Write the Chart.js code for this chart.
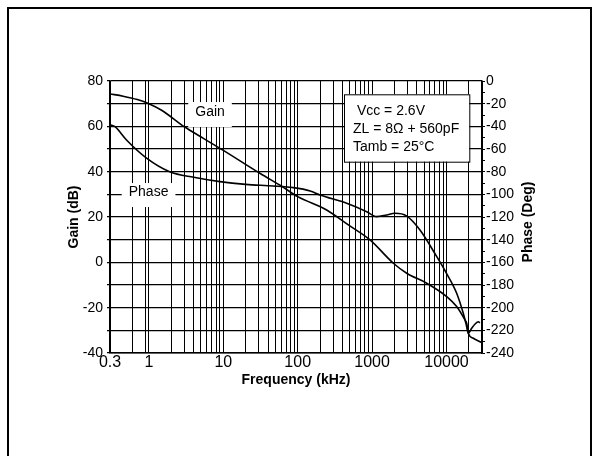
<!DOCTYPE html>
<html>
<head>
<meta charset="utf-8">
<script src="https://cdn.jsdelivr.net/npm/chart.js@4.4.0/dist/chart.umd.min.js"></script>
<style>
    html, body { margin: 0; padding: 0; background: #fff; }
    #wrap { position: relative; width: 595px; height: 456px; overflow: hidden; }
    #frame { position: absolute; left: 7px; top: 7px; width: 581px; height: 470px; border: 2px solid #000; }
    #canvas { position: absolute; left: 0; top: 0; }
</style>
</head>
<body>
<div id="wrap">
    <div id="frame"></div>
    <canvas id="canvas" width="595" height="456"></canvas>
</div>
<script>
// Gain curve (kHz / dB)
const gainFreq = [0.3, 0.45, 0.7, 1, 1.5, 3, 5.4, 10, 31, 62, 100, 245, 480, 937, 1930, 2920, 5420, 10070, 13700, 17700, 18680, 19640, 22900, 28200, 29700];
const gainDb   = [74.3, 73.3, 71.8, 70, 67, 59.8, 54.7, 49.4, 39.3, 33.4, 29, 23.1, 16.5, 9.9, -0.4, -4.8, -9.2, -15.1, -19.5, -25.4, -26.9, -31.3, -33.5, -35, -35.4];

// Phase curve (kHz / deg)
const phaseFreq = [0.3, 0.35, 0.5, 0.93, 1.9, 4, 9, 20, 47, 87, 147, 200, 455, 846, 1150, 1570, 2030, 2900, 4400, 7400, 10000, 13700, 16800, 18680, 19640, 21800, 24200, 26800, 28200];
const phaseDeg  = [-38.5, -40.3, -52, -68, -80, -85, -88.8, -91.2, -92.6, -94.1, -97, -100.6, -107.9, -115.3, -119.7, -118.2, -116.7, -119, -131.5, -155, -169.7, -187.3, -205, -216.8, -222.6, -218.2, -214.4, -212.4, -213.5];

// axes
const xGridTicks = [0.3, 0.6, 0.9,
    1, 2, 3, 4, 5, 6, 7, 8, 9,
    10, 20, 30, 40, 50, 60, 70, 80, 90,
    100, 200, 300, 400, 500, 600, 700, 800, 900,
    1000, 2000, 3000, 4000, 5000, 6000, 7000, 8000, 9000,
    10000, 20000, 30000];
const xTickLabels = [0.3, 1, 10, 100, 1000, 10000];
const conditions = [' Vcc = 2.6V', 'ZL = 8\u03A9 + 560pF', 'Tamb = 25\u00B0C'];

const FONT = "'Liberation Sans', Arial, sans-serif";
Chart.defaults.font.family = FONT;
Chart.defaults.color = '#000';

// petites étiquettes "Gain" / "Phase" sur fond blanc
const curveTags = [
    { text: 'Gain', f: 6.63, db: 65.2, h: 25, dy: -2.5 },
    { text: 'Phase', f: 0.99, db: 29.7, h: 24, dy: -2.8 }
];

const labelsPlugin = {
    id: 'labels',
    beforeDatasetsDraw(chart) {
        const { ctx, chartArea, scales } = chart;
        ctx.save();
        ctx.font = '14px ' + FONT;
        ctx.textBaseline = 'middle';
        curveTags.forEach(tag => {
            const cx = scales.x.getPixelForValue(tag.f);
            const cy = scales.y.getPixelForValue(tag.db);
            const w = ctx.measureText(tag.text).width + 14;
            ctx.fillStyle = '#fff';
            ctx.fillRect(cx - w / 2, cy - tag.h / 2, w, tag.h);
            ctx.fillStyle = '#000';
            ctx.textAlign = 'center';
            ctx.fillText(tag.text, cx, cy + tag.dy);
        });

        // boîte des conditions
        const bx = chartArea.left + 234, by = chartArea.top + 13.3;
        ctx.fillStyle = '#fff';
        ctx.fillRect(bx, by, 125.3, 67.4);
        ctx.strokeStyle = '#000';
        ctx.lineWidth = 1;
        ctx.strokeRect(bx + 0.5, by + 0.5, 125.3, 67.4);
        ctx.fillStyle = '#000';
        ctx.textAlign = 'left';
        conditions.forEach((line, i) => {
            ctx.fillText(line, chartArea.left + 243, chartArea.top + 29.7 + i * 18.3);
        });
        ctx.restore();
    },
    afterDraw(chart) {
        // titre de l'axe droit, lu de bas en haut
        const { ctx, chartArea } = chart;
        ctx.save();
        ctx.font = 'bold 14px ' + FONT;
        ctx.fillStyle = '#000';
        ctx.textAlign = 'center';
        ctx.textBaseline = 'middle';
        ctx.translate(chartArea.right + 46, 222);
        ctx.rotate(-Math.PI / 2);
        ctx.fillText('Phase (Deg)', 0, 0);
        ctx.restore();
    }
};

new Chart(document.querySelector('#canvas'), {
    type: 'line',
    data: {
        datasets: [
            {
                label: 'Gain',
                data: gainFreq.map((f, i) => ({ x: f, y: gainDb[i] })),
                yAxisID: 'y',
                borderColor: '#000',
                borderWidth: 1.6,
                pointRadius: 0,
                cubicInterpolationMode: 'monotone',
                fill: false
            },
            {
                label: 'Phase',
                data: phaseFreq.map((f, i) => ({ x: f, y: phaseDeg[i] })),
                yAxisID: 'y2',
                borderColor: '#000',
                borderWidth: 1.6,
                pointRadius: 0,
                cubicInterpolationMode: 'monotone',
                fill: false
            }
        ]
    },
    options: {
        responsive: false,
        animation: false,
        devicePixelRatio: 1,
        layout: { padding: { left: 65.6, top: 81, right: 0, bottom: 67.6 } },
        plugins: {
            legend: { display: false },
            tooltip: { enabled: false }
        },
        scales: {
            x: {
                type: 'logarithmic',
                min: 0.3,
                max: 30000,
                afterBuildTicks: s => { s.ticks = xGridTicks.map(v => ({ value: v })); },
                afterFit: s => { s.height = 35.4; },
                grid: { color: '#000', lineWidth: 1, drawTicks: false },
                border: { color: '#000', width: 1.5 },
                ticks: {
                    autoSkip: false,
                    maxRotation: 0,
                    padding: 0,
                    font: { size: 16 },
                    callback: v => xTickLabels.includes(v) ? String(v) : ''
                },
                title: {
                    display: true,
                    text: 'Frequency (kHz)',
                    padding: 0,
                    font: { size: 14, weight: 'bold' }
                }
            },
            y: {
                position: 'left',
                min: -40,
                max: 80,
                afterFit: s => { s.width = 44.4; },
                grid: { color: '#000', lineWidth: 1.3, tickLength: 3 },
                border: { color: '#000', width: 1.5 },
                ticks: {
                    stepSize: 10,
                    autoSkip: false,
                    padding: 4,
                    font: { size: 14 },
                    callback: v => v % 20 === 0 ? String(v) : ''
                },
                title: {
                    display: true,
                    text: 'Gain (dB)',
                    padding: 0,
                    font: { size: 14, weight: 'bold' }
                }
            },
            y2: {
                position: 'right',
                min: -240,
                max: 0,
                afterFit: s => { s.width = 113; },
                grid: { drawOnChartArea: false, color: '#000', tickLength: 3 },
                border: { color: '#000', width: 1.5 },
                ticks: {
                    stepSize: 10,
                    autoSkip: false,
                    padding: 1,
                    font: { size: 14 },
                    callback: v => v % 20 === 0 ? String(v) : ''
                }
            }
        }
    },
    plugins: [labelsPlugin]
});
</script>
</body>
</html>
